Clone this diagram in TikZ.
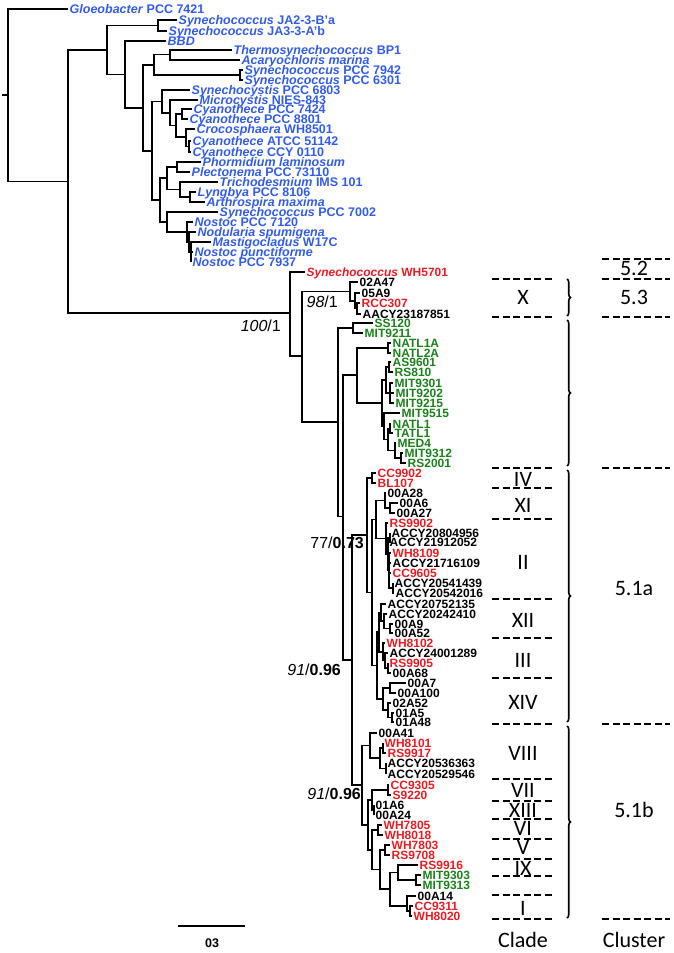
\documentclass[tikz,border=0pt]{standalone}
\usepackage{fontspec}
\setmainfont{Liberation Sans}
\newfontfamily\calibri{Carlito}
\usetikzlibrary{decorations.pathreplacing}
\definecolor{cyanoblue}{RGB}{51,92,230}
\definecolor{synred}{RGB}{232,28,36}
\definecolor{progreen}{RGB}{28,128,28}
\tikzset{
  branch/.style={line width=1.3pt},
  taxon/.style={anchor=west, inner sep=1.5pt, text height=8.5pt, text depth=0pt,
    font=\bfseries\fontsize{12}{12}\selectfont},
  cyano/.style={taxon, text=cyanoblue, text height=9pt,
    font=\bfseries\fontsize{12.5}{12.5}\selectfont},
  support/.style={anchor=east, inner sep=0pt, font=\fontsize{16}{16}\selectfont},
  bar/.style={dash pattern=on 7pt off 3.5pt, line width=2pt},
  brk/.style={decorate, decoration={brace, amplitude=3.5pt}, line width=1.6pt},
  tag/.style={inner sep=0pt, text height=14pt, text depth=0pt,
    font=\calibri\fontsize{22}{22}\selectfont}
}
\begin{document}
\begin{tikzpicture}[x=1pt,y=-1pt]
  \useasboundingbox (0,0) rectangle (674,953);
  % cyanobacteria
  \foreach \n/\x/\y/\t in {
    gloeo/68/9/{\textit{Gloeobacter} PCC 7421},
    ja2/177/20/{\textit{Synechococcus} JA2-3-B'a},
    ja3/167/31/{\textit{Synechococcus} JA3-3-A'b},
    bbd/166/41/{\textit{BBD}},
    thermo/232/50/{\textit{Thermosynechococcus} BP1},
    acaryo/240/60/{\textit{Acaryochloris marina}},
    s7942/243/70/{\textit{Synechococcus} PCC 7942},
    s6301/243/80/{\textit{Synechococcus} PCC 6301},
    s6803/190/90/{\textit{Synechocystis} PCC 6803},
    mic/198/100/{\textit{Microcystis} NIES-843},
    c7424/192/109/{\textit{Cyanothece} PCC 7424},
    c8801/188/119/{\textit{Cyanothece} PCC 8801},
    croco/195/129/{\textit{Crocosphaera} WH8501},
    c51142/191/141/{\textit{Cyanothece} ATCC 51142},
    c0110/191/152/{\textit{Cyanothece} CCY 0110},
    phorm/201/162/{\textit{Phormidium laminosum}},
    plect/190/172/{\textit{Plectonema} PCC 73110},
    tricho/218/182/{\textit{Trichodesmium} IMS 101},
    lyng/196/192/{\textit{Lyngbya} PCC 8106},
    arthro/205/202/{\textit{Arthrospira maxima}},
    s7002/218/212/{\textit{Synechococcus} PCC 7002},
    n7120/193/222/{\textit{Nostoc} PCC 7120},
    nodul/196/232/{\textit{Nodularia spumigena}},
    masti/211/242/{\textit{Mastigocladus} W17C},
    npunct/193/252/{\textit{Nostoc punctiforme}},
    n7937/191/262/{\textit{Nostoc} PCC 7937}}
    \node[cyano] (\n) at (\x,\y) {\t};
  % synechococcus and prochlorococcus
  \foreach \n/\c/\x/\y/\t in {
    wh5701/synred/305/272/{\textit{Synechococcus} WH5701},
    a02a47/black/358/282/02A47, a05a9/black/360/293/05A9,
    rcc307/synred/360/303/RCC307, aacy/black/361/314/AACY23187851,
    ss120/progreen/373/323/SS120, mit9211/progreen/363/333/MIT9211,
    natl1a/progreen/391/343/NATL1A, natl2a/progreen/391/353/NATL2A,
    as9601/progreen/391/362/AS9601, rs810/progreen/393/372/RS810,
    mit9301/progreen/393/383/MIT9301, mit9202/progreen/394/393/MIT9202,
    mit9215/progreen/394/403/MIT9215, mit9515/progreen/400/413/MIT9515,
    natl1/progreen/391/424/NATL1, tatl1/progreen/393/433/TATL1,
    med4/progreen/396/443/MED4, mit9312/progreen/403/453/MIT9312,
    rs2001/progreen/406/463/RS2001,
    cc9902/synred/376/473/CC9902, bl107/synred/376/483/BL107,
    a00a28/black/386/493/00A28, a00a6/black/398/503/00A6,
    a00a27/black/395/513/00A27, rs9902/synred/388/523/RS9902,
    accy0956/black/390/533/ACCY20804956, accy2052/black/388/542/ACCY21912052,
    wh8109/synred/391/553/WH8109, accy6109/black/391/563/ACCY21716109,
    cc9605/synred/391/573/CC9605, accy1439/black/393/583/ACCY20541439,
    accy2016/black/394/593/ACCY20542016, accy2135/black/386/604/ACCY20752135,
    accy2410/black/387/614/ACCY20242410, a00a9/black/393/624/00A9,
    a00a52/black/393/633/00A52, wh8102/synred/385/643/WH8102,
    accy1289/black/388/653/ACCY24001289, rs9905/synred/388/663/RS9905,
    a00a68/black/391/673/00A68, a00a7/black/406/683/00A7,
    a00a100/black/396/693/00A100, a02a52/black/391/703/02A52,
    a01a5/black/394/713/01A5, a01a48/black/394/722/01A48,
    a00a41/black/377/733/00A41, wh8101/synred/383/743/WH8101,
    rs9917/synred/386/753/RS9917, accy6363/black/386/763/ACCY20536363,
    accy9546/black/386/774/ACCY20529546, cc9305/synred/389/785/CC9305,
    s9220/synred/391/795/S9220, a01a6/black/374/805/01A6,
    a00a24/black/374/815/00A24, wh7805/synred/382/825/WH7805,
    wh8018/synred/383/835/WH8018, wh7803/synred/390/845/WH7803,
    rs9708/synred/390/855/RS9708, rs9916/synred/418/865/RS9916,
    mit9303/progreen/421/875/MIT9303, mit9313/progreen/421/885/MIT9313,
    a00a14/black/416/896/00A14, cc9311/synred/413/906/CC9311,
    wh8020/synred/412/916/WH8020}
    \node[taxon, text=\c] (\n) at (\x,\y) {\t};
  % internal nodes
  \foreach \n/\x/\y in {
    root/8/95, n68/68/181.5, n107/107/50, ja/158/25.5, n125/125/74.5,
    n143/143/108, n154/154/65, thac/170/54.5, p7942/240/75, n152/152/151,
    s1/162/101.5, sa/170/113, sb/176/125.5, cy1/182/114, sc/186/137,
    cy2/189/146.5, n160/160/200, osc/167/178, phpl/177/167, tr/180/189.5,
    lyar/190/197, n7002/167/222, no1/187/232, no2/189/242, no3/191/252,
    n290/290/313, n302/302/356, xc/350/291.5, xa/355/301, xb/357/308.5,
    n338/338/422, ss/353/328, n343/343/516.5, pro/357/375, natl/388/348,
    pro2/382/403, hl/386/380, asrs/389/367, trip/390/393, po/384/426,
    pn/388/439.5, nt/390/428.5, pm/395/450.5, pr/401/458,
    np/352/660, cla/367/535, cbl/372/478, q/372/592.5, xiii2/376/519.5,
    nXI/385/500.5, nXIa/390/508, nII/386/538.5, nIIa/388/554, nIIp/390/537.5,
    nIIb/389/570, nIIq/393/588, r3/377/665.5, r2/379/632,
    nXII/381/612.5, nXIIa/384/621, nXIIb/390/628.5,
    nIII/383/652, nIIIa/385/660.5, nIIIb/388/668,
    nXIV/383/699, nXIVa/390/688, nXIVb/388/710, nXIVc/392/717.5,
    clb/362/785, nVIII/370/745.5, nVIIIa/380/758, nVIIIp/383/748, nVIIIq/386/768.5,
    dd/368/825, vx/372/800, nVII/388/790, nXIII/374/810,
    cc/372/850, nVI/378/830, bb/380/869.5, nV/385/850,
    ixi/390/889, nIX/398/872.5, mit/416/880, nI/407/906, nIp/410/911}
    \coordinate (\n) at (\x,\y);
  \coordinate (base) at (2,95);
  \draw[branch] (base) -- (root);
  \foreach \p/\c in {
    root/gloeo, root/n68, n68/n107, n68/n290, n107/ja, n107/n125,
    ja/ja2, ja/ja3, n125/bbd, n125/n143, n143/n154, n143/n152,
    n154/thac, n154/p7942, thac/thermo, thac/acaryo, p7942/s7942, p7942/s6301,
    n152/s1, n152/n160, s1/s6803, s1/sa, sa/mic, sa/sb, sb/cy1, sb/sc,
    cy1/c7424, cy1/c8801, sc/croco, sc/cy2, cy2/c51142, cy2/c0110,
    n160/osc, n160/n7002, osc/phpl, osc/tr, phpl/phorm, phpl/plect,
    tr/tricho, tr/lyar, lyar/lyng, lyar/arthro, n7002/s7002, n7002/no1,
    no1/n7120, no1/no2, no2/nodul, no2/no3, no3/masti, no3/npunct, no3/n7937,
    n290/wh5701, n290/n302, n302/xc, n302/n338,
    xc/a02a47, xc/xa, xa/a05a9, xa/xb, xb/rcc307, xb/aacy,
    n338/ss, n338/n343, ss/ss120, ss/mit9211, n343/pro, n343/np,
    pro/natl, pro/pro2, natl/natl1a, natl/natl2a, pro2/hl, pro2/po,
    hl/asrs, hl/trip, asrs/as9601, asrs/rs810,
    trip/mit9301, trip/mit9202, trip/mit9215, po/mit9515, po/pn,
    pn/nt, pn/pm, nt/natl1, nt/tatl1, pm/med4, pm/pr, pr/mit9312, pr/rs2001,
    np/cla, np/clb, cla/cbl, cla/q, cbl/cc9902, cbl/bl107,
    q/xiii2, q/r3, xiii2/nXI, xiii2/nII,
    nXI/a00a28, nXI/nXIa, nXIa/a00a6, nXIa/a00a27,
    nII/rs9902, nII/nIIa, nIIa/nIIp, nIIa/nIIb, nIIp/accy0956, nIIp/accy2052,
    nIIb/wh8109, nIIb/accy6109, nIIb/cc9605, nIIb/nIIq, nIIq/accy1439, nIIq/accy2016,
    r3/r2, r3/nXIV, r2/nXII, r2/nIII,
    nXII/accy2135, nXII/nXIIa, nXIIa/accy2410, nXIIa/nXIIb, nXIIb/a00a9, nXIIb/a00a52,
    nIII/wh8102, nIII/nIIIa, nIIIa/accy1289, nIIIa/nIIIb, nIIIb/rs9905, nIIIb/a00a68,
    nXIV/nXIVa, nXIV/nXIVb, nXIVa/a00a7, nXIVa/a00a100,
    nXIVb/a02a52, nXIVb/nXIVc, nXIVc/a01a5, nXIVc/a01a48,
    clb/nVIII, clb/dd, nVIII/a00a41, nVIII/nVIIIa, nVIIIa/nVIIIp, nVIIIa/nVIIIq,
    nVIIIp/wh8101, nVIIIp/rs9917, nVIIIq/accy6363, nVIIIq/accy9546,
    dd/vx, dd/cc, vx/nVII, vx/nXIII, nVII/cc9305, nVII/s9220,
    nXIII/a01a6, nXIII/a00a24, cc/nVI, cc/bb, nVI/wh7805, nVI/wh8018,
    bb/nV, bb/ixi, nV/wh7803, nV/rs9708, ixi/nIX, ixi/nI,
    nIX/rs9916, nIX/mit, mit/mit9303, mit/mit9313,
    nI/a00a14, nI/nIp, nIp/cc9311, nIp/wh8020}
    \draw[branch] (\p) |- (\c);
  % support values
  \node[support] (bs100) at (281,326) {\textit{100}/1};
  \node[support] (bs98) at (338,302) {\textit{98}/1};
  \node[support] (bs77) at (364,543) {77/\textbf{0.73}};
  \node[support] (bs91a) at (341,670) {\textit{91}/\textbf{0.96}};
  \node[support] (bs91b) at (361,794) {\textit{91}/\textbf{0.96}};
  % scale bar
  \coordinate (sbl) at (178,926);
  \coordinate (sbr) at (245,926);
  \draw[line width=2pt] (sbl) -- (sbr);
  \node[font=\bfseries\fontsize{12.5}{12.5}\selectfont] (sbt) at (212,943) {03};
  % clade and cluster columns
  \foreach \y in {279,317,468,488,519,599,638,678,724,779,801,819,839,859,876,895,919}
    \draw[bar] (492,\y) -- (555,\y);
  \foreach \y in {259,279,317,468,724,919}
    \draw[bar] (602,\y) -- (670,\y);
  \draw[brk] (567,279) -- (567,316);
  \draw[brk] (567,320) -- (567,466);
  \draw[brk] (567,470) -- (567,722);
  \draw[brk] (567,726) -- (567,918);
  \foreach \n/\y/\t in {kX/297/X, kIV/479/IV, kXI/505/XI, kII/562/II, kXII/620/XII,
      kIII/660/III, kXIV/702/XIV, kVIII/753/VIII, kVII/790/VII, kXIII/810/XIII,
      kVI/828/VI, kV/847/V, kIX/868/IX, kI/908/I}
    \node[tag] (\n) at (523,\y) {\t};
  \foreach \n/\y/\t in {u52/268/5.2, u53/297/5.3, u51a/588/5.1a, u51b/810/5.1b}
    \node[tag] (\n) at (634,\y) {\t};
  \node[tag] (hclade) at (523,940) {Clade};
  \node[tag] (hcluster) at (634,940) {Cluster};
\end{tikzpicture}
\end{document}
